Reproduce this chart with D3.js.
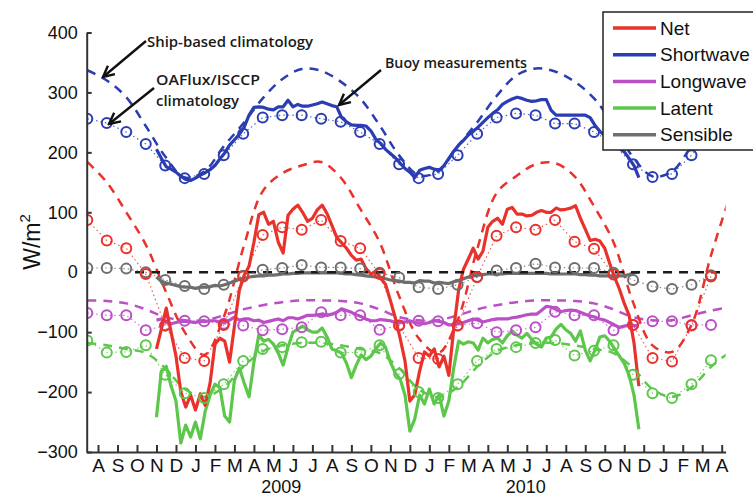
<!DOCTYPE html>
<html>
<head>
<meta charset="utf-8">
<script src="https://cdn.jsdelivr.net/npm/d3@7"></script>
<style>
  body { margin: 0; background: #fff; }
  svg { display: block; font-family: "Liberation Sans", Arial, sans-serif; }
  .note { font-family: "Open Sans", sans-serif; font-weight: 600; fill: #1a1a1a; }
</style>
</head>
<body>
<svg width="753" height="497"></svg>
<script>
(function (d3) {
  'use strict';

  // month index: 0 = Aug 2008 ... 32 = Apr 2011
  const monthLabels = ['A','S','O','N','D','J','F','M','A','M','J','J','A','S','O','N','D',
                       'J','F','M','A','M','J','J','A','S','O','N','D','J','F','M','A'];
  const yearLabels = ['2009', '2010'];
  const yearAt = [9.4, 21.95];
  const yTicks = [-300, -200, -100, 0, 100, 200, 300, 400];
  const names = ['Net', 'Shortwave', 'Longwave', 'Latent', 'Sensible'];

  // ship-based climatology, mid-month values Jul 2008 .. Apr 2011
  const shipStart = -0.55;
  const shipNet = [184, 150, 100, 46, -30, -100, -138, -75, 40, 135, 165, 178,
                   184, 158, 106, 50, -40, -110, -135, -80, 38, 132, 160, 180,
                   182, 160, 110, 50, -50, -122, -133, -88, 28, 130];
  const shipSW = [337, 320, 292, 244, 193, 158, 168, 210, 248, 290, 322, 339,
                  336, 318, 290, 245, 195, 162, 168, 210, 250, 294, 328, 340,
                  335, 318, 290, 245, 192, 160, 168, 210, 250, 290];
  const shipLW = [-47, -48, -52, -62, -75, -80, -80, -72, -62, -55, -50, -47,
                  -47, -48, -52, -62, -75, -80, -80, -72, -62, -55, -50, -47,
                  -47, -48, -52, -62, -75, -80, -80, -72, -64, -58];
  const shipLatent = [-118, -122, -128, -135, -160, -195, -208, -192, -158, -132, -122, -118,
                      -118, -122, -128, -135, -160, -195, -208, -192, -158, -132, -122, -118,
                      -118, -122, -128, -135, -160, -195, -208, -192, -158, -132];
  const zeroLine = [[1.9, 0], [32.2, 0]];

  // OAFlux/ISCCP climatology, mid-month values Jul 2008 .. Mar 2011
  const oaStart = -0.55;
  const oaNet = [87, 53, 40, -3, -89, -143, -148, -88, -7, 62, 75, 71,
                 87, 52, 40, -3, -89, -143, -145, -89, -8, 61, 75, 71,
                 87, 51, 39, -4, -88, -143, -149, -89, -7];
  const oaSW = [256, 249, 234, 214, 178, 157, 164, 195, 231, 258, 262, 262,
                256, 251, 234, 214, 180, 157, 164, 195, 231, 258, 265, 262,
                248, 248, 234, 214, 180, 159, 164, 195, 231];
  const oaLW = [-68, -72, -72, -97, -89, -81, -82, -86, -89, -97, -95, -92,
                -67, -72, -72, -96, -89, -81, -82, -89, -85, -100, -97, -92,
                -66, -72, -72, -97, -88, -82, -82, -88, -88];
  const oaLatent = [-114, -134, -133, -122, -171, -202, -210, -187, -148, -128, -125, -117,
                    -116, -134, -134, -122, -170, -200, -210, -187, -148, -128, -125, -118,
                    -113, -139, -131, -122, -171, -202, -210, -187, -147];
  const oaSens = [7, 7, 6, 0, -13, -23, -28, -21, -6, 4, 7, 12,
                  8, 8, 6, -1, -9, -25, -28, -21, -8, 3, 7, 14,
                  8, 7, 7, -1, -13, -24, -28, -21, -5];

  // buoy measurements, every quarter month from month index 3.0
  const buoyStart = 3.0, buoyStep = 0.25;
  const buoyNet = [-128, -95, -60, -100, -140, -200, -225, -205, -230, -203, -222, -185,
                   -120, -110, -115, -150, -90, -30, -5, 10, 50, 96, 100, 80,
                   85, 50, 32, 95, 105, 112, 100, 85, 90, 104, 112, 98,
                   78, 58, 49, 40, 28, 20, 22, 6, -3, 2, -10, -20,
                   -47, -76, -110, -148, -215, -205, -165, -133, -140, -128, -158, -140,
                   -172, -95, -30, 5, 22, 40, 22, 35, 75, 85, 90, 80,
                   105, 108, 97, 97, 94, 95, 100, 103, 100, 100, 107, 104,
                   105, 107, 111, 90, 72, 53, 55, 52, 40, 15, -8, -28,
                   -52, -72, -118, -190];
  const buoySW = [205, 190, 176, 172, 167, 160, 155, 153, 157, 162, 166, 171,
                  178, 189, 199, 212, 221, 230, 242, 262, 275, 276, 275, 272,
                  271, 276, 276, 287, 276, 280, 277, 277, 279, 281, 284, 281,
                  278, 276, 258, 251, 246, 245, 245, 244, 236, 222, 215, 205,
                  198, 191, 182, 173, 167, 158, 170, 173, 175, 172, 170, 178,
                  190, 202, 212, 220, 229, 235, 242, 250, 258, 265, 271, 280,
                  285, 289, 292, 290, 287, 285, 286, 288, 288, 270, 262, 262,
                  262, 262, 262, 262, 262, 258, 245, 235, 228, 222, 214, 206,
                  201, 190, 178, 158];
  const buoyLW = [-80, -78, -84, -86, -84, -82, -82, -83, -84, -82, -82, -81,
                  -81, -83, -84, -80, -75, -80, -78, -78, -81, -80, -84, -82,
                  -80, -78, -81, -76, -76, -78, -75, -72, -72, -71, -70, -72,
                  -70, -67, -61, -64, -67, -71, -74, -78, -81, -81, -79, -80,
                  -81, -84, -84, -83, -81, -84, -85, -86, -84, -81, -82, -84,
                  -88, -88, -86, -84, -81, -78, -80, -83, -81, -79, -78, -78,
                  -78, -76, -75, -73, -71, -70, -70, -64, -57, -58, -62, -66,
                  -64, -63, -64, -67, -70, -73, -75, -78, -80, -84, -88, -92,
                  -90, -88, -89, -90];
  const buoyLatent = [-242, -165, -157, -190, -215, -285, -255, -275, -250, -278, -232, -205,
                      -187, -192, -240, -250, -180, -160, -185, -208, -150, -105, -115, -112,
                      -120, -135, -155, -125, -100, -95, -90, -96, -100, -100, -93, -108,
                      -128, -131, -135, -152, -176, -155, -138, -146, -140, -128, -118, -125,
                      -150, -168, -178, -205, -265, -245, -205, -220, -195, -220, -205, -240,
                      -215, -160, -115, -120, -116, -118, -130, -110, -118, -112, -110, -118,
                      -106, -98, -105, -110, -102, -112, -120, -125, -110, -108, -95, -87,
                      -96, -102, -115, -98, -130, -148, -130, -108, -106, -115, -128, -140,
                      -152, -172, -205, -262];
  const buoySens = [-8, -15, -18, -20, -22, -24, -25, -25, -27, -25, -25, -24,
                    -22, -23, -21, -18, -15, -12, -10, -8, -7, -6, -6, -5,
                    -5, -4, -3, -3, -2, -2, -1, -1, -1, -1, -1, -1,
                    -1, -1, -2, -3, -3, -4, -5, -6, -7, -8, -9, -11,
                    -13, -14, -15, -17, -17, -18, -14, -15, -15, -18, -17, -18,
                    -19, -16, -14, -11, -8, -6, -5, -4, -3, -3, -3, -3,
                    -2, -2, -2, -2, -2, -2, -2, -2, -2, -3, -3, -3,
                    -3, -3, -3, -4, -4, -5, -5, -6, -6, -6, -6, -6,
                    -6, -4, -1, 0];

  const colors = ['#e8322b', '#2b3db2', '#bb4fc6', '#5cc74b', '#6e6e6e'];

  const series = [
    { name: names[0], color: colors[0], ship: shipNet, oa: oaNet, buoy: buoyNet },
    { name: names[1], color: colors[1], ship: shipSW, oa: oaSW, buoy: buoySW },
    { name: names[2], color: colors[2], ship: shipLW, oa: oaLW, buoy: buoyLW },
    { name: names[3], color: colors[3], ship: shipLatent, oa: oaLatent, buoy: buoyLatent },
    { name: names[4], color: colors[4], ship: null, oa: oaSens, buoy: buoySens }
  ];
  // drawing order: net on top
  const drawOrder = [3, 2, 4, 1, 0];

  const svg = d3.select('svg');

  const x = d3.scaleLinear().domain([-0.58, 32.2]).range([86.7, 725.6]);
  const y = d3.scaleLinear().domain([-300, 400]).range([452, 32.5]);

  svg.append('defs').append('clipPath').attr('id', 'plot')
    .append('rect')
      .attr('x', x.range()[0]).attr('y', 0)
      .attr('width', x.range()[1] - x.range()[0]).attr('height', y.range()[0]);

  svg.select('defs').append('marker')
      .attr('id', 'arrow')
      .attr('viewBox', '0 0 14 14')
      .attr('refX', 12).attr('refY', 7)
      .attr('markerWidth', 14).attr('markerHeight', 14)
      .attr('markerUnits', 'userSpaceOnUse')
      .attr('orient', 'auto')
    .append('path')
      .attr('d', 'M1,1.5 L12,7 L1,12.5')
      .attr('fill', 'none')
      .attr('stroke', '#111')
      .attr('stroke-width', 2.4);

  const line = d3.line().x(d => x(d[0])).y(d => y(d[1]));
  const smooth = d3.line().curve(d3.curveCatmullRom.alpha(0.5))
    .x(d => x(d[0])).y(d => y(d[1]));

  const plot = svg.append('g').attr('clip-path', 'url(#plot)');

  // ship-based climatology (dashed)
  drawOrder.forEach(i => {
    const s = series[i];
    if (!s.ship) return;
    plot.append('path')
      .attr('d', smooth(s.ship.map((v, k) => [shipStart + k, v])))
      .attr('fill', 'none')
      .attr('stroke', s.color)
      .attr('stroke-width', 2.5)
      .attr('stroke-dasharray', '9,7');
  });

  // buoy measurements (solid)
  drawOrder.forEach(i => {
    const s = series[i];
    plot.append('path')
      .attr('d', line(s.buoy.map((v, k) => [buoyStart + k * buoyStep, v])))
      .attr('fill', 'none')
      .attr('stroke', s.color)
      .attr('stroke-width', 3.2)
      .attr('stroke-linejoin', 'round');
  });

  plot.append('path')
    .attr('d', line(zeroLine))
    .attr('fill', 'none')
    .attr('stroke', '#1a1a1a')
    .attr('stroke-width', 2.5)
    .attr('stroke-dasharray', '9,7');

  // OAFlux/ISCCP climatology (dotted with circles)
  drawOrder.forEach(i => {
    const s = series[i];
    const pts = s.oa.map((v, k) => [oaStart + k, v]);
    plot.append('path')
      .attr('d', line(pts))
      .attr('fill', 'none')
      .attr('stroke', s.color)
      .attr('stroke-width', 1.2)
      .attr('stroke-dasharray', '1.5,3')
      .attr('opacity', 0.8);
    plot.append('g').selectAll('circle').data(pts)
      .enter().append('circle')
        .attr('cx', d => x(d[0]))
        .attr('cy', d => y(d[1]))
        .attr('r', 5)
        .attr('fill', 'none')
        .attr('stroke', s.color)
        .attr('stroke-width', 2);
  });

  // axes
  const yAxisG = svg.append('g')
    .attr('transform', `translate(${x.range()[0]},0)`)
    .call(d3.axisLeft(y).tickValues(yTicks).tickSizeInner(-5).tickSizeOuter(0).tickPadding(9));
  yAxisG.attr('font-family', null).attr('font-size', 18);
  yAxisG.selectAll('text').attr('fill', '#111');

  const xAxisG = svg.append('g')
    .attr('transform', `translate(0,${y.range()[0]})`)
    .call(d3.axisBottom(x).tickValues(d3.range(monthLabels.length))
      .tickSizeInner(-7).tickSizeOuter(0).tickPadding(7)
      .tickFormat((d, i) => monthLabels[i]));
  xAxisG.attr('font-family', null).attr('font-size', 19);
  xAxisG.selectAll('text').attr('fill', '#111');

  [yAxisG, xAxisG].forEach(g => {
    g.selectAll('.domain, .tick line').attr('stroke', '#333').attr('stroke-width', 2);
  });

  svg.selectAll('.year').data(yearLabels)
    .enter().append('text')
      .attr('class', 'year')
      .attr('x', (d, i) => x(yearAt[i]))
      .attr('y', 493)
      .attr('text-anchor', 'middle')
      .attr('font-size', 18)
      .attr('fill', '#111')
      .text(d => d);

  const yLabel = svg.append('text')
    .attr('transform', 'translate(40,242) rotate(-90)')
    .attr('text-anchor', 'middle')
    .attr('font-size', 23)
    .attr('fill', '#111');
  yLabel.append('tspan').text('W/m');
  yLabel.append('tspan').attr('font-size', 15).attr('dy', -10).text('2');

  // annotations
  const notes = [
    { text: 'Ship-based climatology', x: 147, y: 47, w: 166 },
    { text: 'OAFlux/ISCCP', x: 156, y: 85, w: 104 },
    { text: 'climatology', x: 156, y: 106, w: 83 },
    { text: 'Buoy measurements', x: 385, y: 68, w: 142 }
  ];
  svg.selectAll('.note').data(notes)
    .enter().append('text')
      .attr('class', 'note')
      .attr('x', d => d.x)
      .attr('y', d => d.y)
      .attr('font-size', 15)
      .attr('textLength', d => d.w)
      .attr('lengthAdjust', 'spacingAndGlyphs')
      .text(d => d.text);

  const arrows = [
    [146, 41, 103, 77],
    [154, 88, 109, 124],
    [381, 70, 339, 105]
  ];
  svg.selectAll('.arrow').data(arrows)
    .enter().append('line')
      .attr('class', 'arrow')
      .attr('x1', d => d[0]).attr('y1', d => d[1])
      .attr('x2', d => d[2]).attr('y2', d => d[3])
      .attr('stroke', '#111')
      .attr('stroke-width', 2.4)
      .attr('marker-end', 'url(#arrow)');

  // legend
  const legend = svg.append('g');
  legend.append('rect')
    .attr('x', 603).attr('y', 12)
    .attr('width', 170).attr('height', 138)
    .attr('fill', '#fff')
    .attr('stroke', '#222')
    .attr('stroke-width', 1.5);
  const item = legend.selectAll('.item').data(series)
    .enter().append('g')
      .attr('class', 'item')
      .attr('transform', (d, i) => `translate(0,${28 + i * 26.7})`);
  item.append('line')
    .attr('x1', 613).attr('x2', 656)
    .attr('stroke', d => d.color)
    .attr('stroke-width', 3.5);
  item.append('text')
    .attr('x', 660)
    .attr('dy', '0.35em')
    .attr('font-size', 19)
    .attr('fill', '#111')
    .text(d => d.name);

}(d3));
</script>
</body>
</html>
